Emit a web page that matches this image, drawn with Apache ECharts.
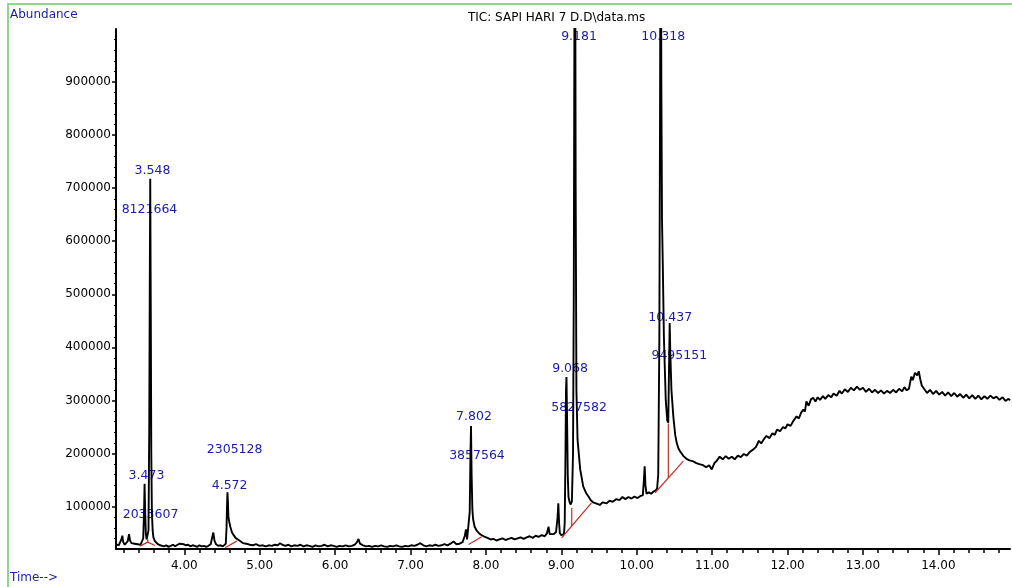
<!DOCTYPE html>
<html>
<head>
<meta charset="utf-8">
<title>TIC: SAPI HARI 7 D.D\data.ms</title>
<script src="https://cdn.jsdelivr.net/npm/echarts@6.0.0/dist/echarts.min.js"></script>
<style>
  html, body { margin: 0; padding: 0; background: #fff; }
  #chart { width: 1012px; height: 587px; }
</style>
</head>
<body>
<div id="chart"></div>
<script>
// retention time (min) / abundance
const ticStart = [
  [3.094, 29000], [3.11, 31000], [3.13, 27000], [3.15, 30000], [3.165, 38000], [3.178, 45000],
  [3.19, 33000], [3.21, 28000], [3.23, 30000], [3.25, 35000], [3.267, 48000], [3.28, 36000],
  [3.30, 31000], [3.32, 28000], [3.34, 30000], [3.36, 27000], [3.38, 29000], [3.40, 31000],
  [3.42, 28000], [3.44, 30000], [3.455, 40000], [3.466, 90000], [3.473, 143000], [3.48, 95000],
  [3.49, 48000], [3.50, 38000], [3.51, 39000], [3.525, 55000], [3.535, 250000], [3.542, 520000],
  [3.548, 718000], [3.555, 480000], [3.562, 200000], [3.57, 90000], [3.58, 55000], [3.59, 42000],
  [3.61, 35000], [3.63, 32000], [3.65, 29000], [3.68, 27000], [3.70, 28000], [3.73, 25000],
  [3.76, 27000], [3.79, 24000], [3.82, 26000], [3.85, 28000], [3.88, 25000], [3.91, 28000],
  [3.94, 30000], [3.966, 32000], [3.99, 29000], [4.02, 27000], [4.05, 28000], [4.08, 25000],
  [4.11, 27000], [4.14, 26000], [4.17, 24000], [4.20, 27000], [4.23, 25000], [4.26, 26000],
  [4.29, 24000], [4.32, 26000], [4.35, 29000], [4.37, 42000], [4.385, 51000], [4.40, 36000],
  [4.42, 29000], [4.45, 26000], [4.48, 27000], [4.51, 25000], [4.53, 26000], [4.55, 30000],
  [4.56, 60000], [4.566, 100000], [4.572, 127000], [4.578, 110000], [4.585, 80000], [4.595, 72000],
  [4.61, 62000], [4.63, 52000], [4.65, 47000], [4.68, 41000], [4.71, 38000], [4.74, 35000],
  [4.78, 31000], [4.82, 30000], [4.87, 28000], [4.91, 27000], [4.95, 29000], [5.00, 26000]
]
const ticMiddle = [
  [5.04, 27000], [5.08, 25000], [5.12, 27000], [5.16, 26000], [5.20, 28000], [5.24, 27000],
  [5.27, 31000], [5.30, 28000], [5.34, 26000], [5.38, 28000], [5.42, 25000], [5.46, 27000],
  [5.50, 26000], [5.54, 28000], [5.58, 25000], [5.62, 27000], [5.66, 26000], [5.70, 24000],
  [5.74, 27000], [5.78, 25000], [5.82, 26000], [5.86, 28000], [5.90, 25000], [5.94, 27000],
  [5.98, 26000], [6.02, 24000], [6.06, 26000], [6.10, 25000], [6.14, 27000], [6.18, 25000],
  [6.22, 26000], [6.26, 28000], [6.29, 33000], [6.31, 39000], [6.33, 30000], [6.37, 27000],
  [6.41, 25000], [6.45, 26000], [6.49, 24000], [6.53, 26000], [6.57, 25000], [6.61, 27000],
  [6.65, 25000], [6.69, 24000], [6.73, 26000], [6.77, 25000], [6.81, 27000], [6.85, 25000],
  [6.89, 24000], [6.93, 26000], [6.97, 25000], [7.01, 27000], [7.05, 26000], [7.09, 28000],
  [7.13, 31000], [7.17, 27000], [7.21, 25000], [7.25, 27000], [7.29, 26000], [7.33, 28000],
  [7.37, 26000], [7.41, 27000], [7.45, 29000], [7.49, 27000], [7.53, 30000], [7.57, 34000],
  [7.61, 29000], [7.65, 30000], [7.69, 33000], [7.72, 45000], [7.735, 57000], [7.75, 38000],
  [7.77, 36000], [7.785, 90000], [7.795, 200000], [7.802, 252000], [7.81, 160000], [7.82, 95000],
  [7.83, 76000], [7.85, 62000], [7.88, 54000], [7.92, 48000], [7.97, 44000], [8.02, 41000],
  [8.06, 38000], [8.10, 39000], [8.14, 36000], [8.18, 38000], [8.22, 40000], [8.26, 37000],
  [8.30, 39000], [8.34, 41000], [8.38, 38000], [8.42, 40000], [8.46, 42000], [8.50, 39000],
  [8.54, 42000], [8.58, 44000], [8.62, 41000], [8.66, 45000], [8.70, 43000], [8.74, 46000],
  [8.78, 44000], [8.81, 50000], [8.83, 62000], [8.845, 48000], [8.87, 46000], [8.90, 48000],
  [8.93, 52000], [8.95, 80000], [8.96, 106000], [8.97, 70000], [8.98, 50000], [9.00, 46000]
]
const ticPeaks = [
  [9.02, 45000], [9.035, 48000], [9.045, 70000], [9.055, 200000], [9.062, 320000], [9.068, 344000],
  [9.075, 280000], [9.085, 160000], [9.095, 118000], [9.11, 108000], [9.125, 104000], [9.14, 110000],
  [9.155, 200000], [9.165, 500000], [9.175, 1100000], [9.181, 1400000], [9.19, 700000], [9.20, 320000],
  [9.215, 226000], [9.25, 170000], [9.29, 138000], [9.33, 125000], [9.36, 119000], [9.39, 112000],
  [9.42, 108000], [9.46, 106000], [9.51, 103000], [9.55, 108000], [9.60, 106000], [9.64, 111000],
  [9.68, 109000], [9.73, 114000], [9.77, 112000], [9.81, 118000], [9.85, 114000], [9.89, 118000],
  [9.93, 115000], [9.97, 119000], [10.01, 116000], [10.05, 120000], [10.08, 121000], [10.095, 150000],
  [10.105, 176000], [10.115, 140000], [10.13, 124000], [10.16, 127000], [10.19, 124000], [10.22, 128000],
  [10.25, 130000], [10.27, 134000], [10.285, 160000], [10.30, 420000], [10.31, 900000], [10.318, 1400000],
  [10.326, 900000], [10.335, 640000], [10.345, 560000], [10.36, 420000], [10.385, 300000], [10.405, 262000],
  [10.418, 258000], [10.428, 360000], [10.437, 446000], [10.445, 390000], [10.46, 320000], [10.485, 270000],
  [10.51, 235000], [10.53, 220000], [10.555, 209000], [10.575, 204000], [10.60, 199000], [10.62, 195000],
  [10.66, 190000], [10.70, 187000], [10.75, 185000], [10.79, 182000], [10.83, 180000], [10.88, 178000],
  [10.92, 174000], [10.96, 178000], [10.995, 170000], [11.03, 182000], [11.06, 186000], [11.10, 194000]
]
const ticTail = [
  [11.14, 189000], [11.18, 195000], [11.22, 190000], [11.26, 194000], [11.30, 189000], [11.34, 196000],
  [11.38, 193000], [11.42, 199000], [11.46, 196000], [11.50, 203000], [11.54, 207000], [11.58, 212000],
  [11.62, 224000], [11.65, 219000], [11.69, 228000], [11.72, 233000], [11.76, 229000], [11.80, 238000],
  [11.83, 235000], [11.86, 245000], [11.90, 242000], [11.94, 250000], [11.97, 247000], [12.00, 255000],
  [12.04, 252000], [12.08, 262000], [12.12, 270000], [12.15, 266000], [12.18, 277000], [12.21, 283000],
  [12.23, 279000], [12.25, 298000], [12.28, 290000], [12.31, 302000], [12.34, 305000], [12.37, 298000],
  [12.40, 306000], [12.43, 301000], [12.47, 308000], [12.50, 303000], [12.54, 310000], [12.58, 306000],
  [12.61, 313000], [12.65, 309000], [12.69, 318000], [12.72, 313000], [12.76, 321000], [12.80, 316000],
  [12.84, 324000], [12.88, 319000], [12.92, 326000], [12.96, 320000], [13.00, 324000], [13.04, 316000],
  [13.08, 322000], [13.12, 315000], [13.16, 320000], [13.20, 314000], [13.24, 319000], [13.28, 313000],
  [13.32, 318000], [13.36, 314000], [13.40, 320000], [13.44, 315000], [13.48, 322000], [13.52, 317000],
  [13.55, 325000], [13.58, 319000], [13.61, 322000], [13.64, 345000], [13.66, 338000], [13.69, 352000],
  [13.72, 347000], [13.74, 355000], [13.76, 340000], [13.78, 328000], [13.81, 322000], [13.85, 314000],
  [13.89, 320000], [13.93, 312000], [13.97, 318000], [14.01, 311000], [14.05, 316000], [14.09, 309000],
  [14.13, 315000], [14.17, 308000], [14.21, 314000], [14.25, 307000], [14.29, 312000], [14.33, 305000],
  [14.37, 311000], [14.41, 304000], [14.45, 310000], [14.49, 303000], [14.53, 309000], [14.57, 302000],
  [14.61, 308000], [14.65, 303000], [14.69, 309000], [14.73, 304000], [14.77, 307000], [14.81, 301000],
  [14.85, 306000], [14.89, 299000], [14.93, 303000], [14.95, 300000]
]

// integration baselines (red), each one a small polyline
const baselines = [
  [[3.41, 25400], [3.515, 33000], [3.61, 26700]],
  [[3.515, 33000], [3.515, 39000]],
  [[4.54, 22400], [4.695, 34800]],
  [[7.77, 28600], [7.944, 43000]],
  [[9.005, 41200], [9.40, 107000]],
  [[9.138, 63400], [9.138, 97700]],
  [[10.243, 126000], [10.618, 185500]],
  [[10.419, 153900], [10.419, 256500]]
]

// peak annotations: text, time, abundance where the text sits
const peakLabels = [
  ['3.548', 3.578, 732000], ['8121664', 3.538, 658500],
  ['3.473', 3.498, 158500], ['2033607', 3.552, 84900],
  ['2305128', 4.667, 207600], ['4.572', 4.601, 139600],
  ['7.802', 7.841, 269800], ['3857564', 7.881, 196200],
  ['9.068', 9.116, 360400], ['5827582', 9.235, 286800],
  ['9.181', 9.235, 985000], ['10.318', 10.351, 985000],
  ['10.437', 10.444, 456600], ['9495151', 10.564, 384900]
]

const xMajor = [4, 5, 6, 7, 8, 9, 10, 11, 12, 13, 14]
const xMinor = [3.2, 3.4, 3.6, 3.8, 4.2, 4.4, 4.6, 4.8, 5.2, 5.4, 5.6, 5.8, 6.2, 6.4, 6.6, 6.8,
  7.2, 7.4, 7.6, 7.8, 8.2, 8.4, 8.6, 8.8, 9.2, 9.4, 9.6, 9.8, 10.2, 10.4, 10.6, 10.8,
  11.2, 11.4, 11.6, 11.8, 12.2, 12.4, 12.6, 12.8, 13.2, 13.4, 13.6, 13.8, 14.2, 14.4, 14.6, 14.8]
const yMajor = [100000, 200000, 300000, 400000, 500000, 600000, 700000, 800000, 900000]
const yMinor = [40000, 60000, 80000, 120000, 140000, 160000, 180000, 220000, 240000, 260000, 280000,
  320000, 340000, 360000, 380000, 420000, 440000, 460000, 480000, 520000, 540000, 560000, 580000,
  620000, 640000, 660000, 680000, 720000, 740000, 760000, 780000, 820000, 840000, 860000, 880000,
  920000, 940000, 960000, 980000]

const FONT = 'DejaVu Sans'
const BLUE = '#1c1ca4'
const X_MIN = 3.094
const X_MAX = 14.95
const Y_MIN = 20000
const Y_MAX = 1000000

const chart = echarts.init(document.getElementById('chart'))

const series = [{
  type: 'line',
  data: ticStart.concat(ticMiddle, ticPeaks, ticTail),
  symbol: 'none',
  clip: true,
  z: 3,
  lineStyle: { color: '#000', width: 1.9 }
}]
baselines.forEach(seg => {
  series.push({
    type: 'line',
    data: seg,
    symbol: 'none',
    z: 4,
    lineStyle: { color: '#c2302a', width: 1.2 }
  })
})
series.push({
  type: 'scatter',
  symbolSize: 0,
  z: 1,
  itemStyle: { opacity: 1 },
  data: peakLabels.map(p => ({ name: p[0], value: [p[1], p[2]] })),
  label: {
    show: true,
    position: 'inside',
    formatter: '{b}',
    fontFamily: FONT,
    fontSize: 12.5,
    opacity: 1,
    color: BLUE
  }
})

const option = {
  animation: false,
  backgroundColor: '#fff',
  title: {
    text: 'TIC: SAPI HARI 7 D.D\\data.ms',
    left: 468,
    top: 12,
    padding: 0,
    textStyle: { fontFamily: FONT, fontSize: 12, fontWeight: 'normal', color: '#000' }
  },
  grid: { left: 116, right: 2, top: 29, bottom: 38 },
  xAxis: [{
    type: 'value',
    min: X_MIN,
    max: X_MAX,
    splitLine: { show: false },
    axisLine: { lineStyle: { color: '#000', width: 2 } },
    axisTick: { customValues: xMajor, length: 6, lineStyle: { color: '#000', width: 1.5 } },
    axisLabel: {
      customValues: xMajor,
      margin: 11,
      formatter: v => v.toFixed(2),
      fontFamily: FONT,
      fontSize: 12,
      color: '#000'
    }
  }, {
    type: 'value',
    min: X_MIN,
    max: X_MAX,
    position: 'bottom',
    splitLine: { show: false },
    axisLine: { show: false },
    axisTick: { customValues: xMinor, length: 4, lineStyle: { color: '#000', width: 1.5 } },
    axisLabel: { show: false }
  }],
  yAxis: [{
    type: 'value',
    min: Y_MIN,
    max: Y_MAX,
    splitLine: { show: false },
    axisLine: { show: true, lineStyle: { color: '#000', width: 2 } },
    axisTick: { show: true, customValues: yMajor, length: 4, lineStyle: { color: '#000', width: 1.5 } },
    axisLabel: {
      customValues: yMajor,
      margin: 5,
      formatter: v => String(v),
      fontFamily: FONT,
      fontSize: 12,
      color: '#000'
    }
  }, {
    type: 'value',
    min: Y_MIN,
    max: Y_MAX,
    position: 'left',
    splitLine: { show: false },
    axisLine: { show: false },
    axisTick: { show: true, customValues: yMinor, length: 2, lineStyle: { color: '#000', width: 1.2 } },
    axisLabel: { show: false }
  }],
  graphic: [
    {
      type: 'rect',
      shape: { x: 8, y: 4, width: 1100, height: 700 },
      style: { fill: 'none', stroke: '#8dd68d', lineWidth: 2 },
      silent: true
    },
    {
      type: 'text',
      left: 10,
      top: 9,
      style: { text: 'Abundance', fontFamily: FONT, fontSize: 12, fill: '#1c1ca4' }
    },
    {
      type: 'text',
      left: 10,
      top: 572,
      style: { text: 'Time-->', fontFamily: FONT, fontSize: 12, fill: '#1c1ca4' }
    }
  ],
  series: series
}

chart.setOption(option)
</script>
</body>
</html>
